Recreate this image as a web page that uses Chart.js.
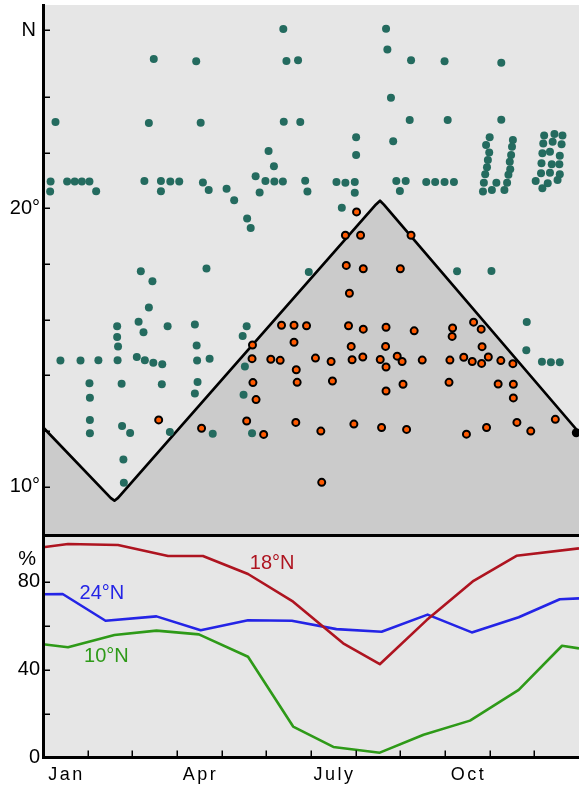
<!DOCTYPE html>
<html>
<head>
<meta charset="utf-8">
<script src="https://cdn.jsdelivr.net/npm/chart.js@4.4.1/dist/chart.umd.min.js"></script>
<style>
  body { margin: 0; background: #fff; }
  #wrap { position: relative; width: 579px; height: 785px; }
  canvas { position: absolute; left: 0; }
</style>
</head>
<body>
<div id="wrap">
  <canvas id="top" width="579" height="537" style="top:0"></canvas>
  <canvas id="bottom" width="579" height="248" style="top:537px"></canvas>
</div>
<script>
// ---- top panel: positions (month, degrees N) ----
const tealX = [2.48, 3.43, 0.28, 2.37, 3.53, 0.17, 0.16, 0.54, 0.71, 0.87, 1.04, 1.19, 2.27, 2.64, 2.64, 2.85, 3.05, 3.58, 3.71, 4.11,
    4.28, 4.57, 4.65, 4.76, 4.85, 4.98, 5.18, 5.37, 5.05, 5.17, 5.38, 5.45, 5.71, 5.39, 5.76, 5.87, 5.92, 6.57, 6.77, 6.98,
    6.98, 6.69, 7.01, 7.01, 7.68, 7.71, 7.79, 7.84, 8.24, 8.99, 10.26, 8.21, 9.06, 10.26, 7.91, 8.12, 7.99, 8.58, 8.78, 8.99,
    9.20, 10.00, 9.92, 9.99, 9.96, 9.94, 9.90, 9.87, 9.85, 10.05, 10.15, 10.52, 10.50, 10.48, 10.45, 10.46, 10.42, 10.39, 10.33,
    11.22, 11.45, 11.63, 11.20, 11.41, 11.61, 11.18, 11.35, 11.57, 11.16, 11.39, 11.56, 11.15, 11.35, 11.57, 11.03, 11.30, 11.52, 11.18,
    2.19, 2.45, 2.37, 1.66, 2.14, 2.25, 2.79, 3.40, 1.66, 1.68, 0.39, 0.84, 1.24, 1.67, 2.10, 2.28, 2.47, 2.67, 3.44, 3.45,
    1.04, 1.76, 2.66, 3.46, 3.40, 1.05, 1.05, 1.05, 1.77, 1.95, 2.84, 1.80, 1.81,
    3.66, 5.95, 4.56, 4.47, 3.73, 4.52, 4.49, 3.80, 4.68, 9.27, 10.04, 10.83, 10.82, 11.17, 11.37, 11.57];
const tealY = [25.36, 25.28, 23.10, 23.06, 23.07, 20.96, 20.60, 20.96, 20.96, 20.96, 20.96, 20.61, 20.98, 20.98, 20.61, 20.96, 20.96, 20.93, 20.66, 20.70,
    20.29, 19.63, 19.29, 21.15, 20.57, 20.98, 20.96, 20.96, 22.06, 21.51, 26.44, 25.29, 25.32, 23.11, 23.10, 20.99, 20.60, 20.94, 20.92, 20.94,
    20.56, 20.02, 22.55, 21.91, 26.45, 25.70, 23.97, 22.41, 25.32, 25.28, 25.23, 23.17, 23.17, 23.18, 20.98, 20.98, 20.62, 20.94, 20.94, 20.94,
    20.94, 22.55, 22.27, 22.00, 21.73, 21.47, 21.22, 20.92, 20.60, 20.66, 20.92, 22.45, 22.21, 21.91, 21.67, 21.40, 21.20, 20.92, 20.66,
    22.61, 22.67, 22.61, 22.33, 22.39, 22.30, 21.98, 22.03, 21.89, 21.62, 21.58, 21.58, 21.26, 21.28, 21.22, 20.98, 20.90, 21.02, 20.72,
    17.74, 17.38, 16.44, 15.76, 15.93, 15.55, 15.76, 15.83, 15.38, 15.04, 14.53, 14.53, 14.54, 14.54, 14.66, 14.54, 14.45, 14.40, 15.07, 14.53,
    13.72, 13.70, 13.68, 13.76, 13.35, 13.20, 12.40, 11.92, 12.18, 11.93, 11.97, 10.98, 10.14,
    17.84, 17.71, 15.76, 15.41, 14.60, 14.32, 13.30, 11.90, 11.92, 17.74, 17.75, 15.92, 14.90, 14.49, 14.47, 14.47];

const orangeX = [7.02, 6.77, 7.11, 8.24, 2.59, 6.79, 7.17, 6.86, 5.34, 5.62, 5.90, 6.84, 7.17, 7.68, 5.62, 6.90, 7.67, 4.69, 4.68, 5.10,
    5.31, 6.10, 6.45, 6.92, 7.16, 7.55, 7.68, 5.67, 4.70, 5.69, 6.48, 7.68, 4.77, 4.56, 3.55, 5.66, 6.22, 6.96, 7.58, 4.94,
    6.24, 8.00, 8.31, 9.17, 9.16, 9.64, 9.81, 9.83, 7.93, 8.04, 8.49, 9.11, 9.42, 9.61, 9.82, 9.97, 10.25, 10.52, 8.06, 9.09,
    10.19, 10.53, 10.53, 8.14, 9.48, 9.93, 10.61, 10.92, 11.47];
const orangeY = [19.87, 19.03, 19.03, 19.03, 12.40, 17.95, 17.83, 16.95, 15.80, 15.80, 15.78, 15.78, 15.66, 15.73, 15.19, 15.04, 15.04, 15.09, 14.60, 14.58,
    14.54, 14.62, 14.50, 14.56, 14.66, 14.57, 14.30, 14.20, 13.74, 13.75, 13.80, 13.44, 13.13, 12.36, 12.10, 12.31, 12.00, 12.25, 12.13, 11.88,
    10.16, 17.83, 15.60, 15.70, 15.40, 15.91, 15.66, 15.03, 14.69, 14.50, 14.55, 14.55, 14.65, 14.50, 14.43, 14.66, 14.53, 14.42, 13.68, 13.75,
    13.69, 13.68, 13.19, 12.06, 11.89, 12.13, 12.31, 12.00, 12.42];

const boundaryX = [0, 1.52, 1.60, 1.68, 7.455, 7.545, 7.632, 12];
const boundaryY = [12.14, 9.59, 9.50, 9.60, 20.14, 20.27, 20.13, 11.95];
const boundaryEnd = [11.94, 11.94];

const degTicks = [10, 12, 14, 16, 18, 20, 22, 24, 26.4];
const degLabels = ['10°', '', '', '', '', '20°', '', '', 'N\u2009'];

// ---- bottom panel: % by month ----
const n18X = [0, 0.56, 1.68, 2.80, 3.58, 4.59, 5.60, 6.72, 7.54, 8.59, 9.64, 10.60, 12];
const n18Y = [95.8, 97.3, 96.8, 91.8, 91.8, 83.6, 71.0, 52.0, 42.5, 62.6, 80.5, 91.9, 95.3];
const n24X = [0, 0.44, 1.40, 2.54, 3.53, 4.59, 5.57, 6.57, 7.58, 8.61, 9.60, 10.65, 11.57, 12];
const n24Y = [74.4, 74.5, 62.3, 64.3, 58.0, 62.5, 62.3, 58.5, 57.3, 65.1, 57.0, 63.9, 72.1, 72.5];
const n10X = [0, 0.56, 1.60, 2.54, 3.49, 4.59, 5.60, 6.50, 7.54, 8.52, 9.56, 10.65, 11.62, 12];
const n10Y = [51.6, 50.2, 55.8, 57.8, 56.1, 45.9, 14.1, 4.8, 2.2, 10.4, 16.8, 30.8, 50.9, 49.7];

const pctTicks = [0, 20, 40, 60, 80, 90];
const pctLabels = ['0', '', '40', '', '80', '%\u2009'];
const monthTicks = [1, 2, 3, 4, 5, 6, 7, 8, 9, 10, 11];
const monthNames = ['Jan', 'Apr', 'July', 'Oct'];
const monthNamePos = [0.5, 3.5, 6.5, 9.5];

const FONT = '"Liberation Sans", Arial, sans-serif';
const pts = (xs, ys) => xs.map((x, i) => ({ x, y: ys[i] }));

const panelBg = {
    id: 'panelBg',
    beforeDraw(chart) {
        const { ctx, chartArea: a } = chart;
        ctx.save();
        ctx.fillStyle = '#e6e6e6';
        ctx.fillRect(a.left, a.top, a.right - a.left, a.bottom - a.top);
        ctx.restore();
    }
};

// tick marks pointing into the plot
function innerTicks(xVals, yVals) {
    return {
        id: 'innerTicks',
        afterDraw(chart) {
            const { ctx, chartArea: a, scales } = chart;
            ctx.save();
            ctx.strokeStyle = '#000';
            ctx.lineWidth = 1.5;
            yVals.forEach(v => {
                const y = Math.round(scales.y.getPixelForValue(v)) + 0.25;
                ctx.beginPath(); ctx.moveTo(a.left, y); ctx.lineTo(a.left + 7, y); ctx.stroke();
            });
            xVals.forEach(v => {
                const x = Math.round(scales.x.getPixelForValue(v)) + 0.25;
                ctx.beginPath(); ctx.moveTo(x, a.bottom); ctx.lineTo(x, a.bottom - 7); ctx.stroke();
            });
            ctx.restore();
        }
    };
}

const axisBorder = { display: true, color: '#000', width: 3, z: 1 };
// fixed axis sizes, no extra room for half labels
const fixY = s => { s.width = 43; s.paddingTop = 0; s.paddingBottom = 0; };
const fixX = h => s => { s.height = h; s.paddingLeft = 0; s.paddingRight = 0; };

new Chart(document.getElementById('top'), {
    type: 'scatter',
    data: {
        datasets: [
            {
                data: pts(orangeX, orangeY), order: 1,
                pointRadius: 3.5, pointBackgroundColor: '#ff5a00', pointBorderColor: '#000', pointBorderWidth: 2
            },
            {
                data: [{ x: boundaryEnd[0], y: boundaryEnd[1] }], order: 1,
                pointRadius: 4.5, pointBackgroundColor: '#000', pointBorderWidth: 0
            },
            {
                data: pts(tealX, tealY), order: 2,
                pointRadius: 4, pointBackgroundColor: '#246b5f', pointBorderWidth: 0
            },
            {
                type: 'line', data: pts(boundaryX, boundaryY), order: 3,
                borderColor: '#000', borderWidth: 2.7, borderJoinStyle: 'round',
                fill: 'start', backgroundColor: '#cbcbcb', pointRadius: 0, tension: 0
            }
        ]
    },
    options: {
        responsive: false,
        animation: false,
        devicePixelRatio: 1,
        events: [],
        layout: { autoPadding: false, padding: { top: 5, right: 0, bottom: 0, left: 0 } },
        plugins: { legend: { display: false }, tooltip: { enabled: false } },
        scales: {
            x: {
                type: 'linear', min: 0, max: 12,
                ticks: { display: false },
                grid: { display: false, drawTicks: false },
                border: axisBorder,
                afterFit: fixX(1.5)
            },
            y: {
                type: 'linear', min: 8.25, max: 27.3,
                afterBuildTicks: s => { s.ticks = degTicks.map(v => ({ value: v })); },
                ticks: {
                    autoSkip: false, padding: 3, color: '#000',
                    font: { family: FONT, size: 20 },
                    callback: (v, i) => degLabels[i]
                },
                grid: { display: false, drawTicks: false },
                border: axisBorder,
                afterFit: fixY
            }
        }
    },
    plugins: [panelBg, innerTicks([], degTicks)]
});

const lineColors = ['#ae1420', '#2424e6', '#2e9a18'];
const lineLabels = [
    { text: '18°N', x: 5.13, y: 88.6 },
    { text: '24°N', x: 1.32, y: 74.7 },
    { text: '10°N', x: 1.42, y: 46.2 }
];

const textLayer = {
    id: 'textLayer',
    afterDraw(chart) {
        const { ctx, chartArea: a, scales: { x, y } } = chart;
        ctx.save();
        ctx.textAlign = 'center';
        ctx.textBaseline = 'middle';
        ctx.font = '20px ' + FONT;
        lineLabels.forEach((l, i) => {
            ctx.fillStyle = lineColors[i];
            ctx.fillText(l.text, x.getPixelForValue(l.x), y.getPixelForValue(l.y));
        });
        ctx.fillStyle = '#000';
        ctx.font = '18px ' + FONT;
        ctx.letterSpacing = '2.5px';
        monthNames.forEach((t, i) => {
            ctx.fillText(t, x.getPixelForValue(monthNamePos[i]) + 1.25, a.bottom + 18);
        });
        ctx.restore();
    }
};

new Chart(document.getElementById('bottom'), {
    type: 'scatter',
    data: {
        datasets: [
            { data: pts(n18X, n18Y), borderColor: lineColors[0] },
            { data: pts(n24X, n24Y), borderColor: lineColors[1] },
            { data: pts(n10X, n10Y), borderColor: lineColors[2] }
        ].map(d => Object.assign(d, {
            showLine: true, borderWidth: 2.6, pointRadius: 0, fill: false, tension: 0, borderJoinStyle: 'round'
        }))
    },
    options: {
        responsive: false,
        animation: false,
        devicePixelRatio: 1,
        events: [],
        layout: { autoPadding: false, padding: 0 },
        plugins: { legend: { display: false }, tooltip: { enabled: false } },
        scales: {
            x: {
                type: 'linear', min: 0, max: 12,
                ticks: { display: false },
                grid: { display: false, drawTicks: false },
                border: axisBorder,
                afterFit: fixX(27.5)
            },
            y: {
                type: 'linear', min: 0, max: 100.46,
                afterBuildTicks: s => { s.ticks = pctTicks.map(v => ({ value: v })); },
                ticks: {
                    autoSkip: false, padding: 3, color: '#000',
                    font: { family: FONT, size: 20 },
                    callback: (v, i) => pctLabels[i]
                },
                grid: { display: false, drawTicks: false },
                border: axisBorder,
                afterFit: fixY
            }
        }
    },
    plugins: [panelBg, innerTicks(monthTicks, pctTicks.slice(1, 5)), textLayer]
});
</script>
</body>
</html>
